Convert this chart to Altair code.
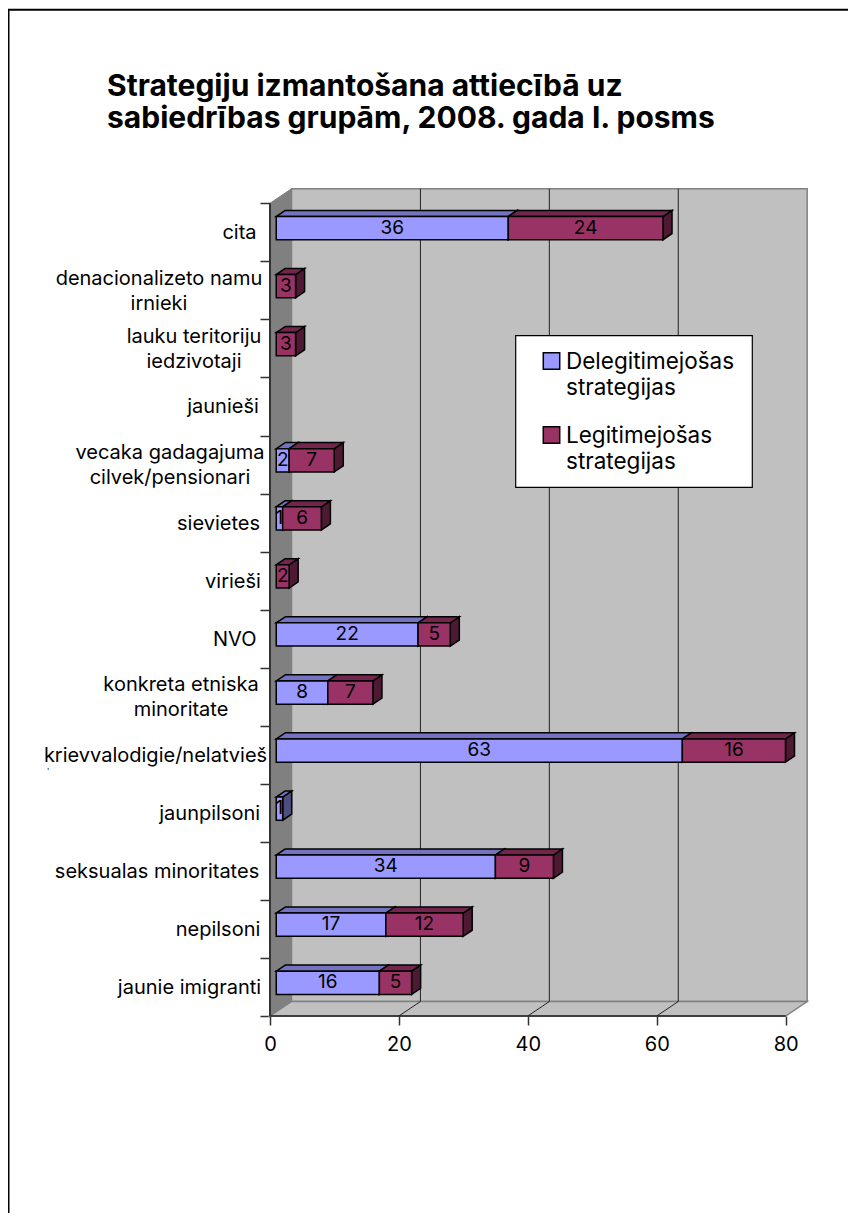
import altair as alt
import pandas as pd

# ---- chart values ----
categories = ["cita", "denacionalizeto namu\nirnieki", "lauku teritoriju\niedzivotaji", "jaunieši",
              "vecaka gadagajuma\ncilvek/pensionari", "sievietes", "virieši", "NVO",
              "konkreta etniska\nminoritate", "krievvalodigie/nelatvieš", "jaunpilsoni",
              "seksualas minoritates", "nepilsoni", "jaunie imigranti"]
delegit = [36, 0, 0, 0, 2, 1, 0, 22, 8, 63, 1, 34, 17, 16]
legit = [24, 3, 3, 0, 7, 6, 2, 5, 7, 16, 0, 9, 12, 5]
series_names = ["Delegitimejošas\nstrategijas", "Legitimejošas\nstrategijas"]
x_ticks = [0, 20, 40, 60, 80]
title_lines = ["Strategiju izmantošana attiecībā uz", "sabiedrības grupām, 2008. gada I. posms"]

# ---- layout (pixels on the page) ----
W, H = 840, 1205
X0, PX_X = 270.0, 6.446          # page x of value 0, px per value unit
Y0, PX_Y = 203.3, 58.05          # page y of top of first category, px per category
DX, DY = 21.5 / PX_X, -14.5 / PX_Y   # depth vector in data units
F0, F1 = 0.29, 0.71              # bar depth extent
label_centers = [239.5, 159, 194, 223, 170, 218.5, 233, 234.7, 181, 155.5, 209.7, 157, 218, 189.5]
FONT = "Inter"
LBL = 19
CAT = 20
LINE_H = 24.7

xs = alt.Scale(domain=[(8 - X0) / PX_X, (8 + W - X0) / PX_X], nice=False, zero=False)
ys = alt.Scale(domain=[(8 - Y0) / PX_Y, (8 + H - Y0) / PX_Y], nice=False, zero=False, reverse=True)
n = len(categories)

x_axis = alt.Axis(values=x_ticks, grid=False, domain=False, orient="bottom", offset=-(8 + H - 1016),
                  tickSize=9, tickColor="#333333", tickWidth=1.5, labelFontSize=20, labelFont=FONT,
                  labelColor="black", labelPadding=9, format="d", labelFlush=False, labelOverlap=False)
y_axis = alt.Axis(values=list(range(n + 1)), grid=False, domain=False, labels=False, orient="left",
                  offset=-(X0 - 8), tickSize=10, tickColor="#333333", tickWidth=1.5)


def X(f="x"):
    return alt.X(f"{f}:Q", scale=xs, axis=x_axis, title=None)


def Y(f="y"):
    return alt.Y(f"{f}:Q", scale=ys, axis=y_axis, title=None)


# faces
front, top, side, labels = [], [], [], []
for i, (a, b) in enumerate(zip(delegit, legit)):
    yc = i + 0.5
    yt, yb = yc - 0.2, yc + 0.2
    start = 0
    for name, v in (("d", a), ("l", b)):
        if v == 0:
            continue
        end = start + v
        k = f"{i}{name}"
        front.append(dict(k=k, s=name, x=start + F0 * DX, x2=end + F0 * DX, y=yt + F0 * DY, y2=yb + F0 * DY))
        top.append(dict(k=k, s=name, y=yt + F0 * DY, x=start + F0 * DX, x2=end + F0 * DX))
        top.append(dict(k=k, s=name, y=yt + F1 * DY, x=start + F1 * DX, x2=end + F1 * DX))
        side.append(dict(k=k, s=name, x=end + F0 * DX, y=yt + F0 * DY, y2=yb + F0 * DY))
        side.append(dict(k=k, s=name, x=end + F1 * DX, y=yt + F1 * DY, y2=yb + F1 * DY))
        labels.append(dict(x=(start + end) / 2 + F0 * DX, y=yc + F0 * DY - 0.005, t=str(v)))
        start = end

wall = pd.DataFrame([dict(x=DX, x2=80 + DX, y=DY, y2=n + DY)])
left_wall = pd.DataFrame([dict(x=0, y=0, y2=n), dict(x=DX, y=DY, y2=n + DY)])
floor = pd.DataFrame([dict(y=n, x=0, x2=80), dict(y=n + DY, x=DX, x2=80 + DX)])
grid = pd.DataFrame([dict(x=v + DX, y=DY, y2=n + DY) for v in x_ticks[1:-1]])
diag = pd.DataFrame([dict(x=v, x2=v + DX, y=n, y2=n + DY) for v in x_ticks[1:-1]])
base_x = pd.DataFrame([dict(x=0, x2=80, y=n)])
base_y = pd.DataFrame([dict(x=0, y=0, y2=n)])

front_c = alt.Color("s:N", legend=None, scale=alt.Scale(domain=["d", "l"], range=["#9999FF", "#993366"]))
top_c = alt.Color("s:N", legend=None, scale=alt.Scale(domain=["d", "l"], range=["#7373BF", "#73264D"]))
side_c = alt.Color("s:N", legend=None, scale=alt.Scale(domain=["d", "l"], range=["#4D4D80", "#4D1933"]))

layers = []
layers.append(alt.Chart(wall).mark_rect(color="#C0C0C0", stroke="#808080", strokeWidth=1.5).encode(
    x=X(), x2="x2:Q", y=Y(), y2="y2:Q"))
layers.append(alt.Chart(floor).mark_area(orient="horizontal", color="#C0C0C0", stroke="#808080", strokeWidth=1.5)
              .encode(y=Y(), x=X(), x2="x2:Q"))
layers.append(alt.Chart(left_wall).mark_area(orient="vertical", color="#808080", stroke="#808080", strokeWidth=1)
              .encode(x=X(), y=Y(), y2="y2:Q"))
layers.append(alt.Chart(grid).mark_rule(color="#222222", strokeWidth=1).encode(x=X(), y=Y(), y2="y2:Q"))
layers.append(alt.Chart(diag).mark_rule(color="#222222", strokeWidth=1).encode(x=X(), x2="x2:Q", y=Y(), y2="y2:Q"))
layers.append(alt.Chart(base_x).mark_rule(color="#222222", strokeWidth=1.5).encode(x=X(), x2="x2:Q", y=Y()))
layers.append(alt.Chart(base_y).mark_rule(color="#333333", strokeWidth=2).encode(x=X(), y=Y(), y2="y2:Q"))
# bars
layers.append(alt.Chart(pd.DataFrame(side)).mark_area(orient="vertical", stroke="black", strokeWidth=1.5).encode(
    x=X(), y=Y(), y2="y2:Q", color=side_c, detail="k:N"))
layers.append(alt.Chart(pd.DataFrame(top)).mark_area(orient="horizontal", stroke="black", strokeWidth=1.5).encode(
    y=Y(), x=X(), x2="x2:Q", color=top_c, detail="k:N"))
layers.append(alt.Chart(pd.DataFrame(front)).mark_rect(stroke="black", strokeWidth=1.5).encode(
    x=X(), x2="x2:Q", y=Y(), y2="y2:Q", color=front_c))
layers.append(alt.Chart(pd.DataFrame(labels)).mark_text(font=FONT, fontSize=LBL, color="black", baseline="middle").encode(
    x=X(), y=Y(), text="t:N"))

# category labels (multi-line text is anchored at its first line)
cat_df = pd.DataFrame(dict(t=categories,
                           y=[i + 0.5 - c.count("\n") * LINE_H / 2 / PX_Y for i, c in enumerate(categories)],
                           px=[c - 8 for c in label_centers]))
layers.append(alt.Chart(cat_df).mark_text(font=FONT, fontSize=CAT, color="black", baseline="middle", align="center",
                                         lineBreak="\n", lineHeight=LINE_H, dy=1).encode(
    x=alt.X("px:Q", scale=None), y=Y(), text="t:N"))
# top of the clipped second line of the long label
layers.append(alt.Chart(pd.DataFrame(dict(t=["'"], y=[9.5], px=[40]))).mark_text(
    font="Liberation Sans", fontSize=9, color="black", baseline="middle", align="center", dy=16).encode(
    x=alt.X("px:Q", scale=None), y=Y(), text="t:N"))

# legend box
lg = pd.DataFrame([dict(a=1)])
layers.append(alt.Chart(lg).mark_rect(color="white", stroke="black", strokeWidth=1.2).encode(
    x=alt.value(515.7 - 8), x2=alt.value(752.3 - 8), y=alt.value(335.7 - 8), y2=alt.value(487.3 - 8)))
lg_sw = pd.DataFrame(dict(s=["d", "l"], t=series_names, px=[551.5 - 8] * 2, py=[361 - 8, 435 - 8],
                          ty=[362 - 8, 436 - 8], tx=[566 - 8] * 2))
layers.append(alt.Chart(lg_sw).mark_point(shape="square", filled=True, size=270, stroke="black", strokeWidth=1.5, opacity=1).encode(
    x=alt.X("px:Q", scale=None), y=alt.Y("py:Q", scale=None), fill=alt.Color("s:N", legend=None,
        scale=alt.Scale(domain=["d", "l"], range=["#9999FF", "#993366"]))))
layers.append(alt.Chart(lg_sw).mark_text(font=FONT, fontSize=22.5, color="black", baseline="middle", align="left",
                                         lineBreak="\n", lineHeight=26).encode(
    x=alt.X("tx:Q", scale=None), y=alt.Y("ty:Q", scale=None), text="t:N"))
# outer frame
layers.append(alt.Chart(lg).mark_rule(color="black", strokeWidth=1.5).encode(
    x=alt.value(0.75), y=alt.value(1.7), y2=alt.value(H)))
layers.append(alt.Chart(lg).mark_rule(color="black", strokeWidth=2).encode(
    x=alt.value(0), x2=alt.value(W), y=alt.value(1.7)))

chart = alt.layer(*layers).resolve_scale(color="independent", x="shared", y="shared").properties(
    width=W, height=H, padding=0, autosize=alt.AutoSizeParams(type="none"),
    background="white",
    title=alt.TitleParams(text=title_lines, anchor="start", frame="group", font=FONT, fontSize=30, fontWeight="bold",
                          color="black", lineHeight=32, dx=99, dy=156, baseline="bottom", offset=0),
).configure_view(stroke=None)

chart.save("out.html", embed_options={"renderer": "svg", "actions": False})
